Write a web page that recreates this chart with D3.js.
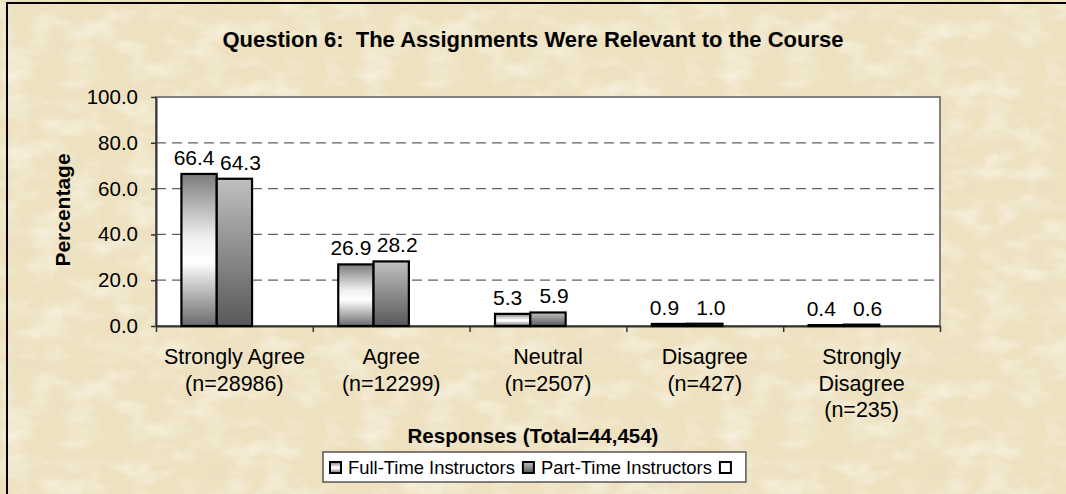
<!DOCTYPE html>
<html>
<head>
<meta charset="utf-8">
<script src="https://cdn.jsdelivr.net/npm/d3@7"></script>
<style>
  html, body { margin: 0; padding: 0; background: #ede1c0; overflow: hidden; }
  svg { display: block; font-family: Arial, "Liberation Sans", sans-serif; }
</style>
</head>
<body>
<div id="chart"></div>
<script>
// chart data
const categories = ['Strongly Agree', 'Agree', 'Neutral', 'Disagree', 'Strongly Disagree'];
const counts = [28986, 12299, 2507, 427, 235];
const seriesNames = ['Full-Time Instructors', 'Part-Time Instructors', ''];
const fullTime = [66.4, 26.9, 5.3, 0.9, 0.4];
const partTime = [64.3, 28.2, 5.9, 1.0, 0.6];
const yTicks = [0, 20, 40, 60, 80, 100];
const title = 'Question 6:  The Assignments Were Relevant to the Course';
const xTitle = 'Responses (Total=44,454)';
const yTitle = 'Percentage';

const W = 1066, H = 494;
const plot = {left: 156, right: 940, top: 97, bottom: 326};

const svg = d3.select('#chart').append('svg')
    .attr('width', W)
    .attr('height', H)
    .style('overflow', 'hidden');

const defs = svg.append('defs');

// parchment texture, laid as a pattern tile
const tile = 360;
function paperFilter(id, freq, seed, matrix) {
    const f = defs.append('filter').attr('id', id)
        .attr('filterUnits', 'userSpaceOnUse')
        .attr('x', 0).attr('y', 0)
        .attr('width', tile).attr('height', tile);
    f.append('feTurbulence')
        .attr('type', 'fractalNoise')
        .attr('baseFrequency', freq)
        .attr('numOctaves', 4)
        .attr('seed', seed)
        .attr('stitchTiles', 'stitch')
        .attr('result', 'noise');
    f.append('feColorMatrix')
        .attr('in', 'noise')
        .attr('type', 'matrix')
        .attr('values', matrix);
}
paperFilter('paper', '0.018 0.03', 7, '0 0 0 0 0.86  0 0 0 0 0.74  0 0 0 0 0.55  1.3 0 0 0 -0.62');
paperFilter('paper2', '0.03 0.05', 3, '0 0 0 0 0.97  0 0 0 0 0.94  0 0 0 0 0.84  0 1.4 0 0 -0.6');

const pat = defs.append('pattern').attr('id', 'paperTile')
    .attr('patternUnits', 'userSpaceOnUse')
    .attr('width', tile).attr('height', tile);
pat.append('rect').attr('width', tile).attr('height', tile).attr('fill', '#ede1c0');
pat.append('rect').attr('width', tile).attr('height', tile).attr('filter', 'url(#paper)');
pat.append('rect').attr('width', tile).attr('height', tile).attr('filter', 'url(#paper2)');

// bar fills
const gFull = defs.append('linearGradient').attr('id', 'gradFull')
    .attr('x1', 0).attr('y1', 0).attr('x2', 0).attr('y2', 1);
[[0, '#7c7c7c'], [0.42, '#f0f0f0'], [0.58, '#ffffff'], [1, '#6a6a6a']].forEach(s =>
    gFull.append('stop').attr('offset', s[0]).attr('stop-color', s[1]));

const gPart = defs.append('linearGradient').attr('id', 'gradPart')
    .attr('x1', 0).attr('y1', 0).attr('x2', 0).attr('y2', 1);
[[0, '#c0c0c0'], [1, '#585858']].forEach(s =>
    gPart.append('stop').attr('offset', s[0]).attr('stop-color', s[1]));

const fills = ['url(#gradFull)', 'url(#gradPart)', '#ffffff'];
const labelShift = [-5, 6];

// background
svg.append('rect').attr('width', W).attr('height', H).attr('fill', '#ede1c0');
svg.append('rect').attr('width', W).attr('height', H).attr('fill', 'url(#paperTile)');

// scales
const x0 = d3.scaleBand()
    .domain(categories)
    .range([plot.left, plot.right])
    .padding(0);

const x1 = d3.scaleBand()
    .domain(seriesNames.map((d, i) => i))
    .range([0, x0.bandwidth()])
    .paddingInner(0)
    .paddingOuter(0.72);

const y = d3.scaleLinear()
    .domain([0, 100])
    .range([plot.bottom, plot.top]);

const xEdge = d3.scaleLinear()
    .domain([0, categories.length])
    .range([plot.left, plot.right]);

// plot area
svg.append('rect')
    .attr('x', plot.left).attr('y', plot.top)
    .attr('width', plot.right - plot.left)
    .attr('height', plot.bottom - plot.top)
    .attr('fill', '#fff')
    .attr('stroke', '#808080')
    .attr('stroke-width', 2);

// gridlines
svg.append('g')
    .selectAll('line')
    .data(yTicks.filter(d => d > 0 && d < 100))
    .enter()
    .append('line')
    .attr('x1', plot.left).attr('x2', plot.right)
    .attr('y1', d => y(d)).attr('y2', d => y(d))
    .attr('stroke', '#606060')
    .attr('stroke-width', 1.3)
    .attr('stroke-dasharray', '10,6');

// axes
const yAxis = svg.append('g')
    .attr('transform', 'translate(' + plot.left + ',0)')
    .call(d3.axisLeft(y).tickValues(yTicks).tickFormat(d3.format('.1f'))
        .tickSize(5).tickPadding(13).tickSizeOuter(0));
yAxis.select('.domain').attr('stroke', '#333').attr('stroke-width', 2);
yAxis.selectAll('.tick line').attr('stroke', '#333').attr('stroke-width', 1.5);
yAxis.selectAll('.tick text')
    .attr('font-size', '20.5px')
    .attr('font-family', 'Arial, "Liberation Sans", sans-serif')
    .attr('fill', '#000');

const xAxis = svg.append('g')
    .attr('transform', 'translate(0,' + plot.bottom + ')')
    .call(d3.axisBottom(xEdge).tickValues(d3.range(categories.length + 1))
        .tickFormat('').tickSize(6).tickSizeOuter(0));
xAxis.select('.domain').attr('stroke', '#333').attr('stroke-width', 2);
xAxis.selectAll('.tick line').attr('stroke', '#333').attr('stroke-width', 1.5);

// category labels
const catLabels = svg.append('g')
    .attr('font-size', '21.5px')
    .attr('text-anchor', 'middle')
    .attr('fill', '#000');

categories.forEach((c, i) => {
    const cx = x0(c) + x0.bandwidth() / 2;
    const t = catLabels.append('text')
        .attr('x', cx)
        .attr('y', 364);
    // wrap category words into the band width, then count on its own line
    const words = c.split(' ');
    const lines = [];
    let line = [];
    const probe = t.append('tspan');
    words.forEach(w => {
        line.push(w);
        probe.text(line.join(' '));
        if (probe.node().getComputedTextLength() > x0.bandwidth() - 8 && line.length > 1) {
            line.pop();
            lines.push(line.join(' '));
            line = [w];
        }
    });
    lines.push(line.join(' '));
    probe.remove();
    lines.push('(n=' + counts[i] + ')');
    lines.forEach((l, j) => {
        t.append('tspan')
            .attr('x', cx)
            .attr('dy', j === 0 ? 0 : 26.5)
            .text(l);
    });
});

// bars
const rows = categories.map((c, i) => ({cat: c, vals: [fullTime[i], partTime[i]]}));

const groups = svg.append('g')
    .selectAll('g')
    .data(rows)
    .enter()
    .append('g')
    .attr('transform', d => 'translate(' + x0(d.cat) + ',0)');

groups.selectAll('rect')
    .data(d => d.vals.map((v, k) => ({v: v, k: k})))
    .enter()
    .append('rect')
    .attr('x', d => x1(d.k))
    .attr('y', d => y(d.v))
    .attr('width', x1.bandwidth())
    .attr('height', d => plot.bottom - y(d.v))
    .attr('fill', d => fills[d.k])
    .attr('stroke', '#000')
    .attr('stroke-width', 2.2);

groups.selectAll('text')
    .data(d => d.vals.map((v, k) => ({v: v, k: k})))
    .enter()
    .append('text')
    .attr('x', d => x1(d.k) + x1.bandwidth() / 2 + labelShift[d.k])
    .attr('y', d => y(d.v) - 9)
    .attr('text-anchor', 'middle')
    .attr('font-size', '21px')
    .attr('fill', '#000')
    .text(d => d3.format('.1f')(d.v));

// titles
svg.append('text')
    .attr('x', 533).attr('y', 47)
    .attr('text-anchor', 'middle')
    .attr('font-size', '22px')
    .attr('font-weight', 'bold')
    .style('white-space', 'pre')
    .text(title);

svg.append('text')
    .attr('x', 533).attr('y', 443)
    .attr('text-anchor', 'middle')
    .attr('font-size', '20.5px')
    .attr('font-weight', 'bold')
    .text(xTitle);

svg.append('text')
    .attr('transform', 'translate(70,210) rotate(-90)')
    .attr('text-anchor', 'middle')
    .attr('font-size', '21px')
    .attr('font-weight', 'bold')
    .text(yTitle);

// legend
const legend = svg.append('g');
const legBox = legend.append('rect')
    .attr('x', 323).attr('y', 452)
    .attr('height', 30)
    .attr('fill', '#fff')
    .attr('stroke', '#555')
    .attr('stroke-width', 1.5);

let lx = 330;
let lastMarker = lx;
seriesNames.forEach((s, i) => {
    lastMarker = lx;
    legend.append('rect')
        .attr('x', lx).attr('y', 462)
        .attr('width', 11).attr('height', 11)
        .attr('fill', fills[i])
        .attr('stroke', '#000')
        .attr('stroke-width', 2);
    const t = legend.append('text')
        .attr('x', lx + 18).attr('y', 474)
        .attr('font-size', '18.4px')
        .attr('fill', '#000')
        .text(s);
    lx += 18 + t.node().getComputedTextLength() + 8;
});
legBox.attr('width', lastMarker + 11 + 15 - 323);

// keep the right margin clean, then the outer chart frame on top
svg.append('rect')
    .attr('x', 1046).attr('y', 0)
    .attr('width', W - 1046).attr('height', H)
    .attr('fill', 'url(#paperTile)');
svg.append('line')
    .attr('x1', 7).attr('x2', 7).attr('y1', 2).attr('y2', H)
    .attr('stroke', '#000').attr('stroke-width', 2);
svg.append('line')
    .attr('x1', 6).attr('x2', W).attr('y1', 3).attr('y2', 3)
    .attr('stroke', '#000').attr('stroke-width', 2);
</script>
</body>
</html>
